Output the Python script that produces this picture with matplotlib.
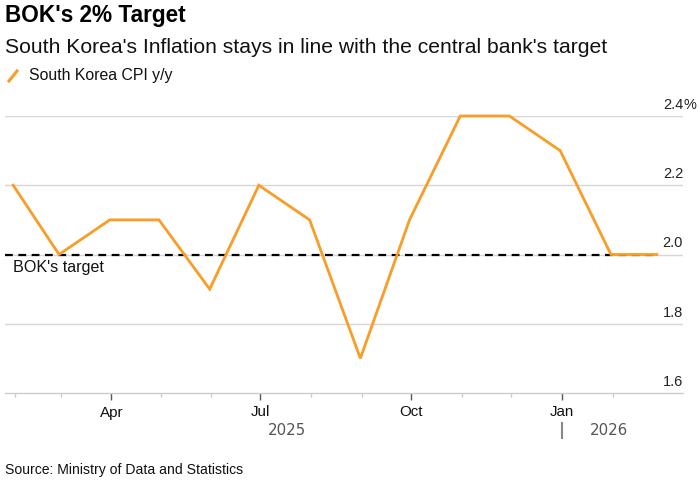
import matplotlib
matplotlib.use("Agg")
import matplotlib.pyplot as plt
import matplotlib.dates as mdates
from matplotlib.lines import Line2D
import pandas as pd

plt.rcParams['font.family'] = ['Liberation Sans', 'DejaVu Sans']

# ---- data ----
dates = pd.to_datetime([
    "2025-01-31", "2025-02-28", "2025-03-31", "2025-04-30", "2025-05-31",
    "2025-06-30", "2025-07-31", "2025-08-31", "2025-09-30", "2025-10-31",
    "2025-11-30", "2025-12-31", "2026-01-31", "2026-02-28"])
cpi = [2.2, 2.0, 2.1, 2.1, 1.9, 2.2, 2.1, 1.7, 2.1, 2.4, 2.4, 2.3, 2.0, 2.0]
target = 2.0
y_ticks = [1.6, 1.8, 2.0, 2.2, 2.4]
major_ticks = pd.to_datetime(["2025-04-01", "2025-07-01", "2025-10-01", "2026-01-01"])
major_labels = ["Apr", "Jul", "Oct", "Jan"]
minor_ticks = pd.date_range("2025-02-01", "2026-02-01", freq="MS")
year_labels = [("2025", "2025-07-17"), ("2026", "2026-01-30")]
year_sep = pd.Timestamp("2026-01-01")

W, H = 700, 482
fig = plt.figure(figsize=(W / 100, H / 100), dpi=100)
ax = fig.add_axes([5 / W, (H - 393) / H, (683 - 5) / W, (393 - 116) / H])

orange = '#f99d26'
ax.set_xlim(pd.Timestamp("2025-01-26"), pd.Timestamp("2026-03-16"))
ax.set_ylim(1.6, 2.4)

for v in y_ticks[1:]:
    ax.axhline(v, color='#d6d6d6', lw=1.0, zorder=1)

ax.plot([ax.get_xlim()[0], mdates.date2num(dates[-1])], [target, target],
        color='black', lw=1.6, ls=(0, (3.5, 2.5)), zorder=2)
ax.plot(dates, cpi, color=orange, lw=2.0, zorder=3, clip_on=False,
        solid_joinstyle='miter')

ax.text(mdates.date2num(pd.Timestamp("2025-01-31")), target - 0.017, "BOK's target",
        ha='left', va='top', fontsize=11.6, color='#111111')

# y labels above gridlines at right
for v in y_ticks:
    lab = f"{v:.1f}"
    ax.text(1.0, v + 0.012, lab, transform=ax.get_yaxis_transform(),
            ha='right', va='bottom', fontsize=10.5, color='#222222')
ax.text(1.0, y_ticks[-1] + 0.012, "%", transform=ax.get_yaxis_transform(),
        ha='left', va='bottom', fontsize=10.5, color='#222222')

for s in ['top', 'right', 'left']:
    ax.spines[s].set_visible(False)
ax.spines['bottom'].set_color('#cccccc')
ax.spines['bottom'].set_linewidth(1.0)
ax.set_yticks([])

ax.set_xticks(major_ticks)
ax.set_xticklabels(major_labels)
ax.set_xticks(minor_ticks, minor=True)
ax.tick_params(axis='x', which='major', length=5, width=1.0, color='#555555',
               labelsize=10.9, labelcolor='#111111', pad=4)
ax.tick_params(axis='x', which='minor', length=3, width=1.0, color='#cccccc')

# year labels
for txt, d in year_labels:
    ax.text(mdates.date2num(pd.Timestamp(d)), -0.135, txt, transform=ax.get_xaxis_transform(),
            ha='center', va='center', fontsize=10.8, color='#555555',
            family='DejaVu Sans')
ax.plot([mdates.date2num(year_sep)] * 2, [-0.108, -0.162], transform=ax.get_xaxis_transform(),
        color='#888888', lw=1.5, clip_on=False)

# titles
fig.text(5 / W, 1 - 22 / H, "BOK's 2% Target", fontsize=16.3, fontweight='bold',
         ha='left', va='baseline', color='#000000')
fig.text(5 / W, 1 - 53 / H, "South Korea's Inflation stays in line with the central bank's target",
         fontsize=15.2, ha='left', va='baseline', color='#111111')
fig.add_artist(Line2D([9 / W, 17 / W], [1 - 81 / H, 1 - 71 / H], color=orange, lw=2.2))
fig.text(29 / W, 1 - 80 / H, "South Korea CPI y/y", fontsize=11.4, ha='left', va='baseline',
         color='#111111')
fig.text(5 / W, 1 - 474 / H, "Source: Ministry of Data and Statistics", fontsize=10.1,
         ha='left', va='baseline', color='#111111')

fig.savefig("out.png", dpi=100)
